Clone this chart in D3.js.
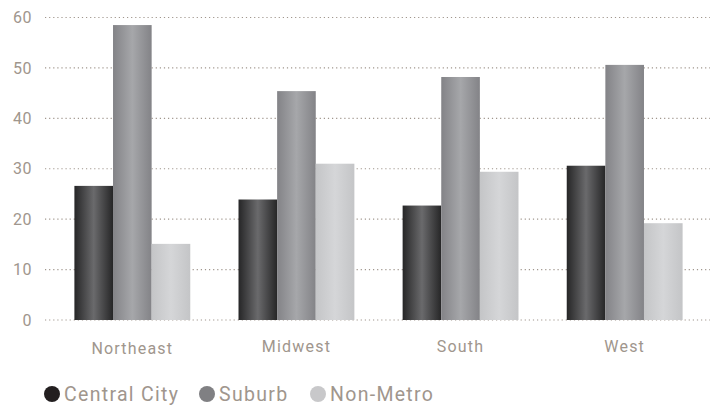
<!DOCTYPE html>
<html>
<head>
<meta charset="utf-8">
<script src="https://cdn.jsdelivr.net/npm/d3@7"></script>
<style>
  body { margin: 0; background: #fff; }
  text { font-family: Roboto, sans-serif; fill: #a0968d; }
</style>
</head>
<body>
<svg></svg>
<script>
const regions = ["Northeast", "Midwest", "South", "West"];
const seriesNames = ["Central City", "Suburb", "Non-Metro"];
const centralCity = [26.6, 23.9, 22.7, 30.6];
const suburb = [58.5, 45.4, 48.2, 50.6];
const nonMetro = [15.1, 31.0, 29.4, 19.2];
const yTicks = [0, 10, 20, 30, 40, 50, 60];

const seriesValues = [centralCity, suburb, nonMetro];
// edge / middle colours of each bar gradient, and the legend dot colour
const gradStops = [["#262627", "#6a6a6c"], ["#838387", "#a6a7aa"], ["#c4c5c7", "#d5d6d8"]];
const dotColors = ["#231f20", "#808083", "#c8c8ca"];

const w = 714, h = 406;
const margin = { top: 17.5, left: 45, right: 4, bottom: 86 };
const innerW = w - margin.left - margin.right;
const innerH = h - margin.top - margin.bottom;

const svg = d3.select("svg").attr("width", w).attr("height", h);

const defs = svg.append("defs");
gradStops.forEach(function(s, i) {
  const g = defs.append("linearGradient").attr("id", "grad" + i)
    .attr("x1", "0%").attr("x2", "100%").attr("y1", "0%").attr("y2", "0%");
  g.append("stop").attr("offset", "0%").attr("stop-color", s[0]);
  g.append("stop").attr("offset", "50%").attr("stop-color", s[1]);
  g.append("stop").attr("offset", "100%").attr("stop-color", s[0]);
});

const g = svg.append("g").attr("transform", `translate(${margin.left},${margin.top})`);

const x0 = d3.scaleBand().domain(regions).range([1.5, innerW + 0.5]).paddingInner(0.294).paddingOuter(0.17);
const x1 = d3.scaleBand().domain(seriesNames).range([0, x0.bandwidth()]);
const y = d3.scaleLinear().domain([0, 60]).range([innerH, 0]);

// dotted gridlines
g.selectAll(".grid").data(yTicks).enter().append("line")
  .attr("x1", 0).attr("x2", innerW)
  .attr("y1", d => y(d)).attr("y2", d => y(d))
  .attr("stroke", "#a0968d").attr("stroke-width", 1.2)
  .attr("stroke-dasharray", "1.2,2.9");

// y tick labels
g.selectAll(".ytick").data(yTicks).enter().append("text")
  .attr("x", -13).attr("y", d => y(d)).attr("dy", "0.35em")
  .attr("text-anchor", "end").style("font-size", "16px")
  .style("letter-spacing", "0.5px")
  .text(d => d);

// category labels
g.selectAll(".xlab").data(regions).enter().append("text")
  .attr("x", d => x0(d) + x0.bandwidth() / 2)
  .attr("y", (d, i) => innerH + (i === 0 ? 34 : 32))
  .attr("text-anchor", "middle").style("font-size", "16px")
  .style("letter-spacing", "1.2px")
  .text(d => d);

// bars
const groups = g.selectAll(".region").data(regions).enter().append("g")
  .attr("transform", d => `translate(${x0(d)},0)`);

groups.selectAll("rect")
  .data((d, i) => seriesNames.map((s, j) => ({ s: s, j: j, v: seriesValues[j][i] })))
  .enter().append("rect")
  .attr("x", d => x1(d.s))
  .attr("width", x1.bandwidth())
  .attr("y", d => y(d.v))
  .attr("height", d => innerH - y(d.v))
  .attr("fill", d => `url(#grad${d.j})`);

// legend
const legendX = [52, 207, 318];
const legend = svg.append("g").attr("transform", "translate(0,394)");
seriesNames.forEach(function(s, i) {
  legend.append("circle").attr("cx", legendX[i]).attr("cy", 0).attr("r", 8).attr("fill", dotColors[i]);
  legend.append("text").attr("x", legendX[i] + 12).attr("y", 0).attr("dy", "0.35em")
    .style("font-size", "19.5px").style("letter-spacing", "1.3px").text(s);
});
</script>
</body>
</html>
